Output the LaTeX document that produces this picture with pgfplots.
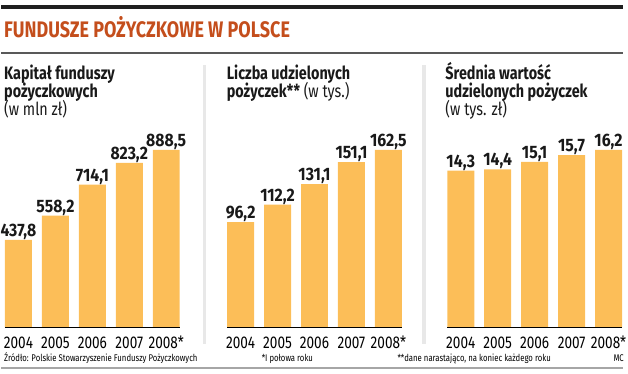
\documentclass[border=0pt]{standalone}
\usepackage{pgfplots}
\pgfplotsset{compat=1.18}
\usepackage{fontspec}
\setmainfont{Fira Sans}
\newfontfamily\cond{Fira Sans}[FakeStretch=0.8]
\newfontfamily\numf{Fira Sans}[FakeStretch=0.88]
\newfontfamily\yearf{Fira Sans}[FakeStretch=0.8]
\definecolor{titlecol}{RGB}{196,78,28}
\definecolor{barcol}{RGB}{252,190,88}
\definecolor{sepcol}{RGB}{232,232,232}
\pgfplotsset{
  panel/.style={
    scale only axis, width=185pt, height=177.7pt,
    xmin=-0.5, xmax=4.5, ymin=0, enlargelimits=false,
    axis line style={draw=none}, tick style={draw=none},
    ytick=\empty, xtick={0,1,2,3,4},
    xticklabels={2004,2005,2006,2007,2008*},
    xticklabel style={font=\yearf\fontsize{17}{17}\selectfont, anchor=base, yshift=-17.5pt, inner sep=0pt},
    clip=false,
    ybar, bar width=27pt,
    nodes near coords,
    point meta=explicit symbolic,
    every node near coord/.append style={font=\numf\bfseries\fontsize{18}{18}\selectfont, anchor=base, yshift=3.5pt, inner sep=0pt, text=black!90},
  }
}
\begin{document}
\begin{tikzpicture}
\begin{scope}[x=1pt,y=1pt]
\useasboundingbox (0,0) rectangle (628,374);
% header rules
\fill[black!88] (0,365) rectangle (623,369);
\fill[black!65] (0,320) rectangle (623,322);
\fill[black!35] (0,4) rectangle (623,6);
% separators
\fill[sepcol] (202,29) rectangle (205.5,309);
\fill[sepcol] (422,29) rectangle (425.5,309);
% title
\node[anchor=base west, inner sep=0pt, text=titlecol, font=\cond\bfseries\fontsize{22.5}{22.5}\selectfont] at (3,336.3) {FUNDUSZE POŻYCZKOWE W POLSCE};
% panel titles
\begin{scope}[every node/.style={anchor=base west, inner sep=0pt, text=black!90, font=\cond\fontsize{18}{18}\selectfont}]
\node at (3,294) {\bfseries Kapitał funduszy};
\node at (3,276.3) {\bfseries pożyczkowych};
\node at (3,258) {(w mln zł)};
\node at (226,294) {\bfseries Liczba udzielonych};
\node at (226,276.3) {\textbf{pożyczek**} (w tys.)};
\node at (445,294) {\bfseries Średnia wartość};
\node at (445,276.3) {\bfseries udzielonych pożyczek};
\node at (445,258) {(w tys. zł)};
\end{scope}
% footnotes
\begin{scope}[every node/.style={anchor=base west, inner sep=0pt, font=\cond\fontsize{9.7}{9.7}\selectfont}]
\node at (3,12) {Źródło: Polskie Stowarzyszenie Funduszy Pożyczkowych};
\node at (261,12) {*I połowa roku};
\node at (397,12) {**dane narastająco, na koniec każdego roku};
\node[anchor=base east] at (624,12) {MC};
\end{scope}
\end{scope}
% panel 1
\begin{axis}[panel, at={(-1pt,46.3pt)}, anchor=south west, ymax=888.5]
\addplot[fill=barcol, draw=none] coordinates {(0,437.8) [437,8] (1,558.2) [558,2] (2,714.1) [714,1] (3,823.2) [823,2] (4,888.5) [888,5]};
\draw[black, line width=1.2pt] (axis cs:-0.365,0) -- (axis cs:4.365,0);
\end{axis}
% panel 2
\begin{axis}[panel, at={(221.5pt,46.3pt)}, anchor=south west, ymax=162.5]
\addplot[fill=barcol, draw=none] coordinates {(0,96.2) [96,2] (1,112.2) [112,2] (2,131.1) [131,1] (3,151.1) [151,1] (4,162.5) [162,5]};
\draw[black, line width=1.2pt] (axis cs:-0.365,0) -- (axis cs:4.365,0);
\end{axis}
% panel 3
\begin{axis}[panel, at={(442pt,46.3pt)}, anchor=south west, ymax=16.2]
\addplot[fill=barcol, draw=none] coordinates {(0,14.3) [14,3] (1,14.4) [14,4] (2,15.1) [15,1] (3,15.7) [15,7] (4,16.2) [16,2]};
\draw[black, line width=1.2pt] (axis cs:-0.365,0) -- (axis cs:4.365,0);
\end{axis}
\end{tikzpicture}
\end{document}
